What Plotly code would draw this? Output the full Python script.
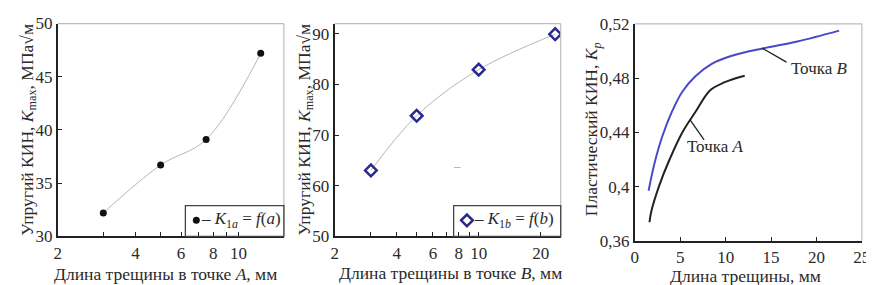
import math
import plotly.graph_objects as go

W, H = 874, 285

# ---------------- data ----------------
a_len = [3.0, 5.0, 7.5, 12.2]
k1a = [32.2, 36.7, 39.1, 47.2]

b_len = [3.0, 5.0, 10.0, 23.5]
k1b = [63.0, 73.8, 82.9, 89.9]

kp_b_x = [1.52, 2.16, 3.06, 4.14, 5.23, 6.67, 8.47, 10.6, 14.2, 17.9, 22.5]
kp_b_y = [0.397, 0.417, 0.4377, 0.456, 0.470, 0.4814, 0.4905, 0.4963, 0.502, 0.507, 0.515]

kp_a_x = [1.62, 1.80, 2.70, 3.78, 5.23, 6.67, 8.30, 9.9, 12.1]
kp_a_y = [0.3738, 0.3814, 0.4010, 0.4193, 0.440, 0.455, 0.471, 0.477, 0.4818]

x1_ticks = [2, 3, 4, 5, 6, 7, 8, 9, 10]
x1_text = ["2", "", "4", "", "6", "", "8", "", "10"]
y1_ticks = [30, 35, 40, 45, 50]

x2_ticks = [2, 3, 4, 5, 6, 7, 8, 9, 10, 20]
x2_text = ["2", "", "4", "", "6", "", "8", "", "10", "20"]
y2_ticks = [50, 60, 70, 80, 90]

x3_ticks = [0, 5, 10, 15, 20, 25]
y3_ticks = [0.36, 0.40, 0.44, 0.48, 0.52]
y3_text = ["0,36", "0,4", "0,44", "0,48", "0,52"]

legend_a = "– <i>K</i><sub>1<i>a</i></sub> = <i>f</i>(<i>a</i>)"
legend_b = "– <i>K</i><sub>1<i>b</i></sub> = <i>f</i>(<i>b</i>)"

FONT = "Liberation Serif"
TXT = "#2a2a2a"

def px(x):
    return x / W

def py(y):
    return 1 - y / H

fig = go.Figure()

# Panel 1
fig.add_trace(go.Scatter(x=a_len, y=k1a, mode="lines", line=dict(shape="spline", color="#b5b5b5", width=1),
                         xaxis="x", yaxis="y", showlegend=False, hoverinfo="skip"))
fig.add_trace(go.Scatter(x=a_len, y=k1a, mode="markers", marker=dict(symbol="circle", size=7, color="#111"),
                         xaxis="x", yaxis="y", showlegend=True, legend="legend", name=""))
# Panel 2
fig.add_trace(go.Scatter(x=b_len, y=k1b, mode="lines", line=dict(shape="spline", color="#b5b5b5", width=1),
                         xaxis="x2", yaxis="y2", showlegend=False, hoverinfo="skip"))
fig.add_trace(go.Scatter(x=b_len, y=k1b, mode="markers",
                         marker=dict(symbol="diamond-open", size=9, color="#2a2a8c", line=dict(width=2.5, color="#2a2a8c")),
                         xaxis="x2", yaxis="y2", showlegend=True, legend="legend2", name=""))
# Panel 3
fig.add_trace(go.Scatter(x=kp_b_x, y=kp_b_y, mode="lines", line=dict(shape="spline", color="#4a48c8", width=2),
                         xaxis="x3", yaxis="y3", showlegend=False))
fig.add_trace(go.Scatter(x=kp_a_x, y=kp_a_y, mode="lines", line=dict(shape="spline", color="#222", width=2),
                         xaxis="x3", yaxis="y3", showlegend=False))

ax_common = dict(showline=True, linecolor="#222", linewidth=2, ticks="inside", ticklen=4, tickwidth=1.3,
                 tickcolor="#222", showgrid=False, zeroline=False, ticklabeloverflow="allow",
                 tickfont=dict(family=FONT, size=17, color=TXT), mirror=False)

fig.update_layout(
    width=W, height=H, margin=dict(l=0, r=0, t=0, b=0),
    paper_bgcolor="white", plot_bgcolor="white",
    xaxis=dict(domain=[px(46.5), px(276)], type="log", range=[math.log10(2), math.log10(15)],
               tickvals=x1_ticks, ticktext=x1_text, anchor="y", **ax_common),
    yaxis=dict(domain=[py(235), py(7)], range=[30, 50], tickvals=y1_ticks, anchor="x", **ax_common),
    xaxis2=dict(domain=[px(327.5), px(557)], type="log", range=[math.log10(2), math.log10(25)],
                tickvals=x2_ticks, ticktext=x2_text, anchor="y2", **ax_common),
    yaxis2=dict(domain=[py(235), py(7)], range=[50, 92], tickvals=y2_ticks, anchor="x2", **ax_common),
    xaxis3=dict(domain=[px(632.2), px(862.7)], range=[0, 25], tickvals=x3_ticks, anchor="y3", **ax_common),
    yaxis3=dict(domain=[py(240), py(7.3)], range=[0.36, 0.52], tickvals=y3_ticks, ticktext=y3_text,
                anchor="x3", **ax_common),
    legend=dict(x=px(166.8), y=py(218), xanchor="left", yanchor="middle", bgcolor="rgba(0,0,0,0)",
                borderwidth=0, font=dict(family=FONT, size=16, color=TXT), itemwidth=30),
    legend2=dict(x=px(441.5), y=py(218), xanchor="left", yanchor="middle", bgcolor="rgba(0,0,0,0)",
                 borderwidth=0, font=dict(family=FONT, size=16, color=TXT), itemwidth=30),
)

shapes = []
for xr, yr in (("x", "y"), ("x2", "y2"), ("x3", "y3")):
    shapes.append(dict(type="line", xref=xr + " domain", yref=yr + " domain", x0=0, x1=1, y0=1, y1=1,
                       line=dict(color="#bdbdbd", width=1.2)))
    shapes.append(dict(type="line", xref=xr + " domain", yref=yr + " domain", x0=1, x1=1, y0=0, y1=1,
                       line=dict(color="#bdbdbd", width=1.2)))
# legend boxes
shapes.append(dict(type="rect", xref="paper", yref="paper", x0=px(176), x1=px(276), y0=py(235), y1=py(202),
                   line=dict(color="#444", width=1.3)))
shapes.append(dict(type="rect", xref="paper", yref="paper", x0=px(448.3), x1=px(557), y0=py(235), y1=py(202),
                   line=dict(color="#444", width=1.3)))
# leader lines
shapes.append(dict(type="line", xref="x3", yref="y3", x0=14.0, y0=0.5022, x1=16.7, y1=0.4918,
                   line=dict(color="#222", width=1.3)))
shapes.append(dict(type="line", xref="x3", yref="y3", x0=6.07, y0=0.4494, x1=7.63, y1=0.4345,
                   line=dict(color="#222", width=1.3)))
fig.update_layout(shapes=shapes)

tf = dict(family=FONT, size=17.5, color=TXT)
ann = [
    dict(text="Упругий КИН, <i>K</i><sub>max</sub>, МПа√м", x=px(17), y=py(121), textangle=-90),
    dict(text="Упругий КИН, <i>K</i><sub>max</sub>, МПа√м", x=px(298), y=py(121), textangle=-90),
    dict(text="Пластический КИН, <i>K<sub>p</sub></i>", x=px(589), y=py(120), textangle=-90),
    dict(text="Длина трещины в точке <i>A</i>, мм", x=px(156), y=py(275)),
    dict(text="Длина трещины в точке <i>B</i>, мм", x=px(445), y=py(274)),
    dict(text="Длина трещины, мм", x=px(745), y=py(277)),
]
for a in ann:
    a.update(xref="paper", yref="paper", showarrow=False, font=tf, xanchor="center", yanchor="middle")
    fig.add_annotation(**a)

tf2 = dict(family=FONT, size=17, color=TXT)
# legend entry texts
fig.add_annotation(text=legend_a, x=px(190), y=py(217.5), xref="paper", yref="paper", showarrow=False,
                   font=tf2, xanchor="left", yanchor="middle")
fig.add_annotation(text=legend_b, x=px(467), y=py(217.5), xref="paper", yref="paper", showarrow=False,
                   font=tf2, xanchor="left", yanchor="middle")

fig.add_annotation(text="Точка <i>B</i>", x=20.3, y=0.4872, xref="x3", yref="y3", showarrow=False, font=tf2)
fig.add_annotation(text="Точка <i>A</i>", x=8.85, y=0.4295, xref="x3", yref="y3", showarrow=False, font=tf2)
fig.add_annotation(text="–", x=math.log10(7.83), y=63.9, xref="x2", yref="y2", showarrow=False,
                   font=dict(family=FONT, size=13, color="#999"))

fig.write_html("out.html")
